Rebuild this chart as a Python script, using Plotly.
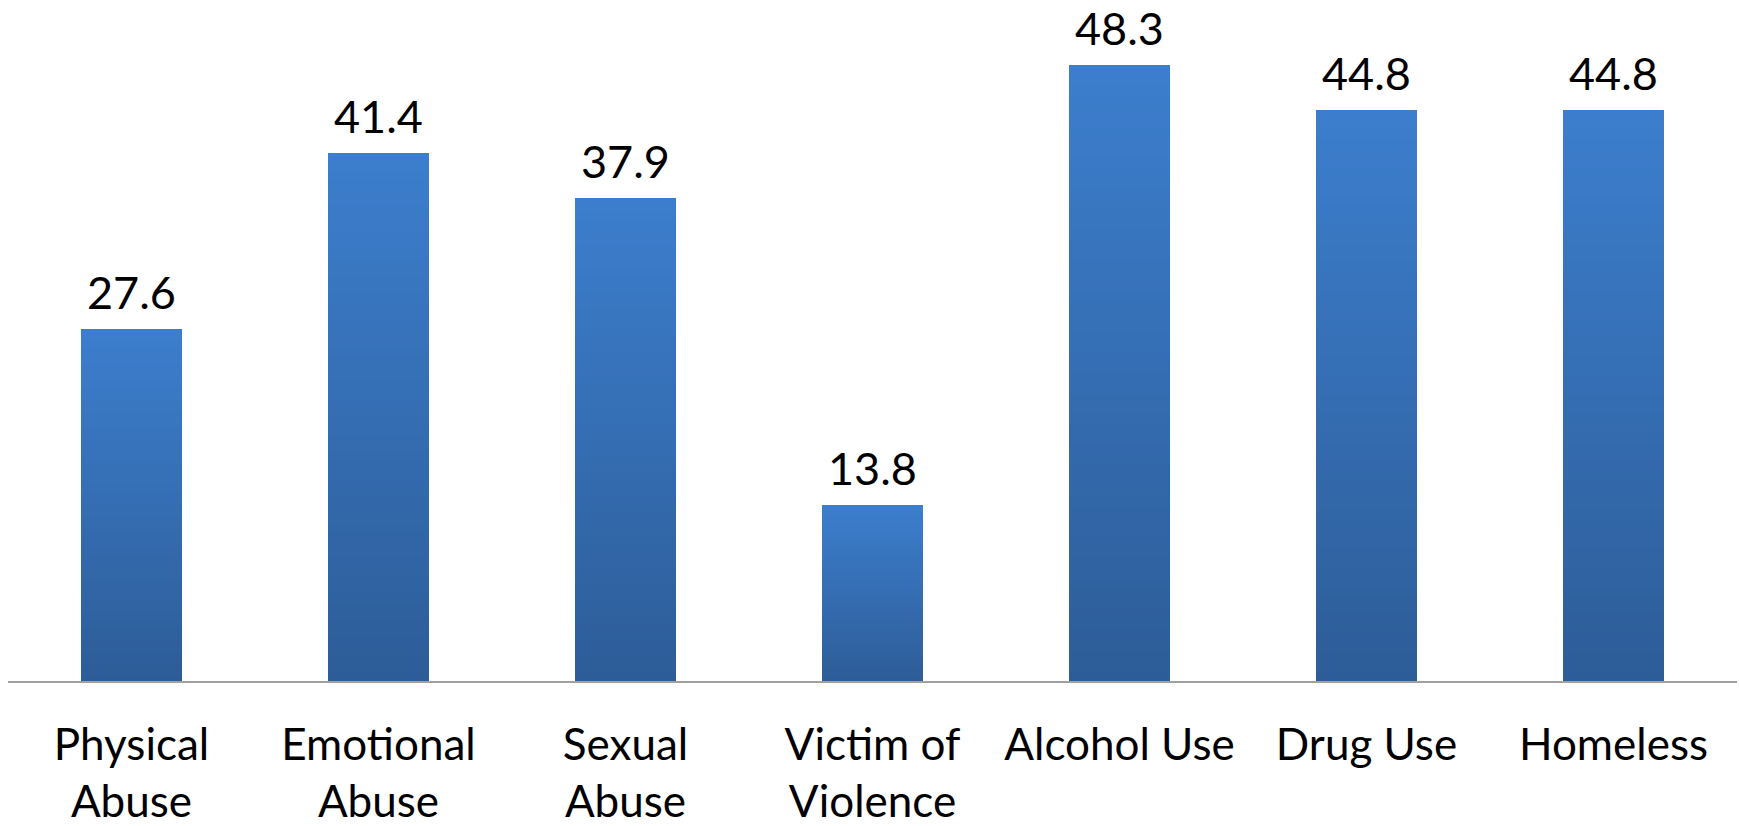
import plotly.graph_objects as go

categories = ["Physical<br>Abuse", "Emotional<br>Abuse", "Sexual<br>Abuse", "Victim of<br>Violence",
              "Alcohol Use", "Drug Use", "Homeless"]
values = [27.6, 41.4, 37.9, 13.8, 48.3, 44.8, 44.8]

TOP = (60, 126, 205)
BOTTOM = (45, 93, 152)
N_SLICES = 60

FONT = "Lato"

fig = go.Figure()

# Each bar is built from thin stacked slices so it fades from a lighter top to a darker base.
for i in range(N_SLICES):
    t = i / (N_SLICES - 1)
    c = tuple(round(BOTTOM[k] + (TOP[k] - BOTTOM[k]) * t) for k in range(3))
    fig.add_trace(go.Bar(
        x=categories,
        y=[v / N_SLICES for v in values],
        marker=dict(color="rgb(%d,%d,%d)" % c, line=dict(width=0)),
        showlegend=False,
        hoverinfo="skip",
    ))

for cat, v in zip(categories, values):
    fig.add_annotation(
        x=cat, y=v, text=f"{v:.1f}", showarrow=False,
        yanchor="bottom", yshift=8,
        font=dict(family=FONT, size=45, color="black"),
    )

fig.update_layout(
    width=1739, height=826,
    margin=dict(l=8, r=2, t=0, b=145, autoexpand=False),
    barmode="stack",
    bargap=0.595,
    plot_bgcolor="white",
    paper_bgcolor="white",
    font=dict(family=FONT, size=44, color="black"),
)
fig.update_xaxes(
    showline=True, linecolor="#a0a0a0", linewidth=2,
    showgrid=False, ticks="", ticklabelstandoff=24, automargin=False,
    tickfont=dict(family=FONT, size=44, color="black"),
)
fig.update_yaxes(range=[0, 53.4], visible=False, showgrid=False, automargin=False)

fig.write_html("out.html")
